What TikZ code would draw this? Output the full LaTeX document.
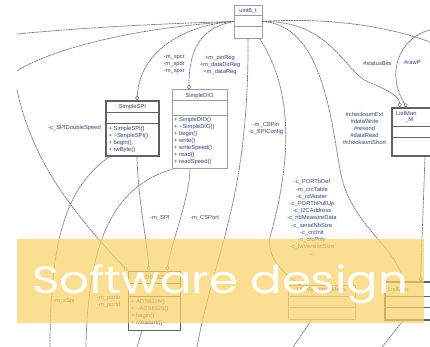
\documentclass[tikz,border=0pt]{standalone}
\usepackage{graphicx}
\usepackage{fontspec}
\setmainfont{Liberation Sans}
\newfontfamily\bandfont{Poppins}
\usetikzlibrary{arrows.meta}
\begin{document}
\begin{tikzpicture}[x=1pt,y=-1pt,font=\fontsize{5.8}{7}\selectfont,
  classbox/.style={draw=boxgrey,fill=white,line width=0.8pt,inner sep=0pt},
  heavybox/.style={classbox,draw=boxdark,line width=1.3pt},
  link/.style={draw=linegrey,line width=0.7pt,dash pattern=on 2pt off 0.6pt},
  uses/.style={link,-{Diamond[open,length=5pt,width=4pt,line width=0.6pt]}},
  varlabel/.style={text=labelblue,inner sep=0pt,align=center},
  members/.style={text=labelblue,inner sep=0pt,align=left,anchor=north west}]
  \definecolor{linegrey}{gray}{0.45}
  \definecolor{boxgrey}{gray}{0.62}
  \definecolor{boxdark}{gray}{0.38}
  \definecolor{labelblue}{RGB}{55,65,110}
  \definecolor{bandyellow}{RGB}{247,210,100}
  \useasboundingbox (0,0) rectangle (430,347);
  \clip (0,0) rectangle (430,347);

  %% classes
  \node[classbox,minimum width=28,minimum height=33] (uint) at (248,21.5) {};
  \node[varlabel] (uint-name) at (248,10.5) {uint8\_t};
  \draw[boxgrey,line width=0.8pt] ([yshift=-11pt]uint.north west) -- ([yshift=-11pt]uint.north east);
  \draw[boxgrey,line width=0.8pt] ([yshift=-22pt]uint.north west) -- ([yshift=-22pt]uint.north east);

  \node[heavybox,minimum width=53,minimum height=55] (spi) at (132.5,128.5) {};
  \node[varlabel] (spi-name) at (132.5,107) {SimpleSPI};
  \draw[boxdark,line width=1.3pt] ([yshift=-12pt]spi.north west) -- ([yshift=-12pt]spi.north east);
  \draw[boxdark,line width=1.3pt] ([yshift=-23pt]spi.north west) -- ([yshift=-23pt]spi.north east);
  \node[members] (spi-ops) at (108.5,126.5) {+ SimpleSPI()\\+ \string~SimpleSPI()\\+ begin()\\+ rwByte()};

  \node[classbox,line width=1pt,minimum width=55,minimum height=79] (dio) at (199.5,129.5) {};
  \node[varlabel] (dio-name) at (199.5,96) {SimpleDIO};
  \draw[boxgrey,line width=1pt] ([yshift=-11pt]dio.north west) -- ([yshift=-11pt]dio.north east);
  \draw[boxgrey,line width=1pt] ([yshift=-26pt]dio.north west) -- ([yshift=-26pt]dio.north east);
  \node[members] (dio-ops) at (174,117.5) {+ SimpleDIO()\\+ \string~SimpleDIO()\\+ begin()\\+ write()\\+ writeSpeed()\\+ read()\\+ readSpeed()};

  \node[heavybox,line width=1pt,minimum width=52,minimum height=59] (ads) at (154,300.5) {};
  \node[varlabel] (ads-name) at (154,278) {ADS8326};
  \draw[boxdark,line width=1pt] ([yshift=-13pt]ads.north west) -- ([yshift=-13pt]ads.north east);
  \draw[boxdark,line width=1pt] ([yshift=-26pt]ads.north west) -- ([yshift=-26pt]ads.north east);
  \node[members] (ads-ops) at (131,299.5) {+ ADS8326()\\+ \string~ADS8326()\\+ begin()\\+ measure()};

  \node[classbox,minimum width=67,minimum height=34] (crcbox) at (321.5,302) {};
  \node[varlabel] (crc-name) at (321.5,290) {ListManager\_Meas};
  \draw[boxgrey,line width=0.8pt] ([yshift=-12pt]crcbox.north west) -- ([yshift=-12pt]crcbox.north east);
  \draw[boxgrey,line width=0.8pt] ([yshift=-23pt]crcbox.north west) -- ([yshift=-23pt]crcbox.north east);

  \node[heavybox,minimum width=58,minimum height=48] (lmtop) at (421,132) {};
  \node[varlabel,anchor=west] (lmtop-name) at (396,113) {ListMan};
  \node[varlabel,anchor=west] (lmtop-name2) at (405,120) {\_M};
  \draw[boxdark,line width=1.3pt] ([yshift=-19pt]lmtop.north west) -- ([yshift=-19pt]lmtop.north east);
  \draw[boxdark,line width=1.3pt] ([yshift=-30pt]lmtop.north west) -- ([yshift=-30pt]lmtop.north east);

  \node[heavybox,minimum width=65,minimum height=38] (lmbot) at (417.5,301) {};
  \node[varlabel,anchor=west] (lmbot-name) at (388,289) {ListMan};
  \draw[boxdark,line width=1.3pt] ([yshift=-15pt]lmbot.north west) -- ([yshift=-15pt]lmbot.north east);
  \draw[boxdark,line width=1.3pt] ([yshift=-26pt]lmbot.north west) -- ([yshift=-26pt]lmbot.north east);

  %% free ends where the diagram runs off the crop
  \coordinate (endA) at (17,34);
  \coordinate (endB) at (17,71);
  \coordinate (endC) at (17,90);
  \coordinate (endD) at (50,347);
  \coordinate (endE) at (86,347);
  \coordinate (endF) at (197,347);
  \coordinate (endG) at (430,42);
  \coordinate (endH) at (430,30);
  \coordinate (endads) at (137,347);
  \coordinate (endcrc) at (293,347);
  \coordinate (endlm) at (382,347);

  %% usage edges
  \draw[link] (uint.west) .. controls (150,24) and (80,28) .. (endA);
  \draw[link] (uint.west) .. controls (130,28) and (50,50) .. (endB);
  \draw[uses] (uint.west) .. controls (185,25) and (140,50) .. ([xshift=4.5pt]spi.north);
  \draw[uses] (uint.west) .. controls (200,28) and (189,50) .. ([xshift=-10.5pt]dio.north);
  \draw[uses] (endC) .. controls (30,150) and (60,200) .. (ads.north west);
  \draw[link] ([xshift=4pt]spi.south west) .. controls (70,185) and (50,230) .. (endD);
  \draw[uses] ([xshift=4.5pt]spi.south) .. controls (138,200) and (147,240) .. ([xshift=-5pt]ads.north);
  \draw[uses] ([xshift=-9.5pt]dio.south) .. controls (189,200) and (172,240) .. ([xshift=13pt]ads.north);
  \draw[link] (dio.south west) .. controls (120,185) and (88,230) .. (endE);
  \draw[link] (uint.south) .. controls (249,200) and (215,250) .. (endF);
  \draw[uses] ([xshift=-3pt]uint.south east) .. controls (300,100) and (285,180) .. (272,230)
    .. controls (262,255) and (285,275) .. ([xshift=-20pt]crcbox.north);
  \draw[uses] (uint.east) .. controls (320,25) and (330,110) .. (340,170)
    .. controls (350,225) and (395,245) .. ([xshift=-15pt]lmbot.north);
  \draw[uses] (uint.east) .. controls (330,20) and (345,72) .. (368,82)
    .. controls (388,90) and (399,96) .. ([xshift=-21pt]lmtop.north);
  \draw[link] (uint.east) .. controls (330,17) and (390,27) .. (endG);
  \draw[uses] (endH) .. controls (398,38) and (386,75) .. ([xshift=-14pt]lmtop.north);
  \draw[uses] ([xshift=4pt]lmtop.south) -- ([xshift=3pt]lmbot.north);
  \draw[link] ([xshift=-12pt]ads.south) -- (endads);
  \draw[link] ([xshift=-9.5pt]crcbox.south) -- (endcrc);
  \draw[link] ([xshift=-14.5pt]lmbot.south) -- (endlm);

  %% edge labels
  \node[varlabel,align=right,anchor=north east] (lbl-spcr) at (185,55.5) {-m\_spcr\\-m\_spdr\\-m\_spsr};
  \node[varlabel,anchor=north] (lbl-reg) at (220,55.5) {+m\_pinReg\\+m\_dataDirReg\\+m\_dataReg};
  \node[varlabel,anchor=east] (lbl-double) at (101,128) {-c\_SPIDoubleSpeed};
  \node[varlabel,anchor=north] (lbl-cspin) at (266,122.5) {-m\_CSPin\\-c\_SPIConfig};
  \node[varlabel,anchor=north] (lbl-chk) at (364.5,112.5) {\#checksumExt\\\#dataWrite\\\#resend\\\#dataRead\\\#checksumShort};
  \node[varlabel,anchor=west] (lbl-status) at (363,63) {\#statusBits};
  \node[varlabel,anchor=west] (lbl-raw) at (404,63) {\#rawP};
  \node[varlabel,anchor=north,font=\fontsize{5.8}{7.2}\selectfont] (lbl-consts) at (312,179.5)
    {-c\_PORTbDef\\-m\_crcTable\\-c\_isMaster\\-c\_PORTbPullUp\\-c\_I2CAddress\\-c\_nbMeasureData\\-c\_serialNbSize\\-c\_crcInit\\-c\_crcPoly\\-c\_fwVersionSize\\...};
  \node[varlabel,anchor=west] (lbl-spi) at (150,218) {-m\_SPI};
  \node[varlabel,anchor=west] (lbl-csport) at (190,218) {-m\_CSPort};
  \node[varlabel,anchor=west] (lbl-sspi) at (53,301) {-m\_sSpi};
  \node[varlabel,align=left,anchor=north west] (lbl-ports) at (97,295.5) {-m\_portb\\-m\_portd};
  \node[varlabel,anchor=west] (lbl-cr) at (181,290) {cr};

  %% title band over the diagram
  \fill[bandyellow,fill opacity=0.72] (17,239) rectangle (424,323);
  \node[anchor=base west,inner sep=0pt,text=white] (band-title) at (32,293)
    {\resizebox{376pt}{29pt}{\bandfont Software design}};
\end{tikzpicture}
\end{document}
